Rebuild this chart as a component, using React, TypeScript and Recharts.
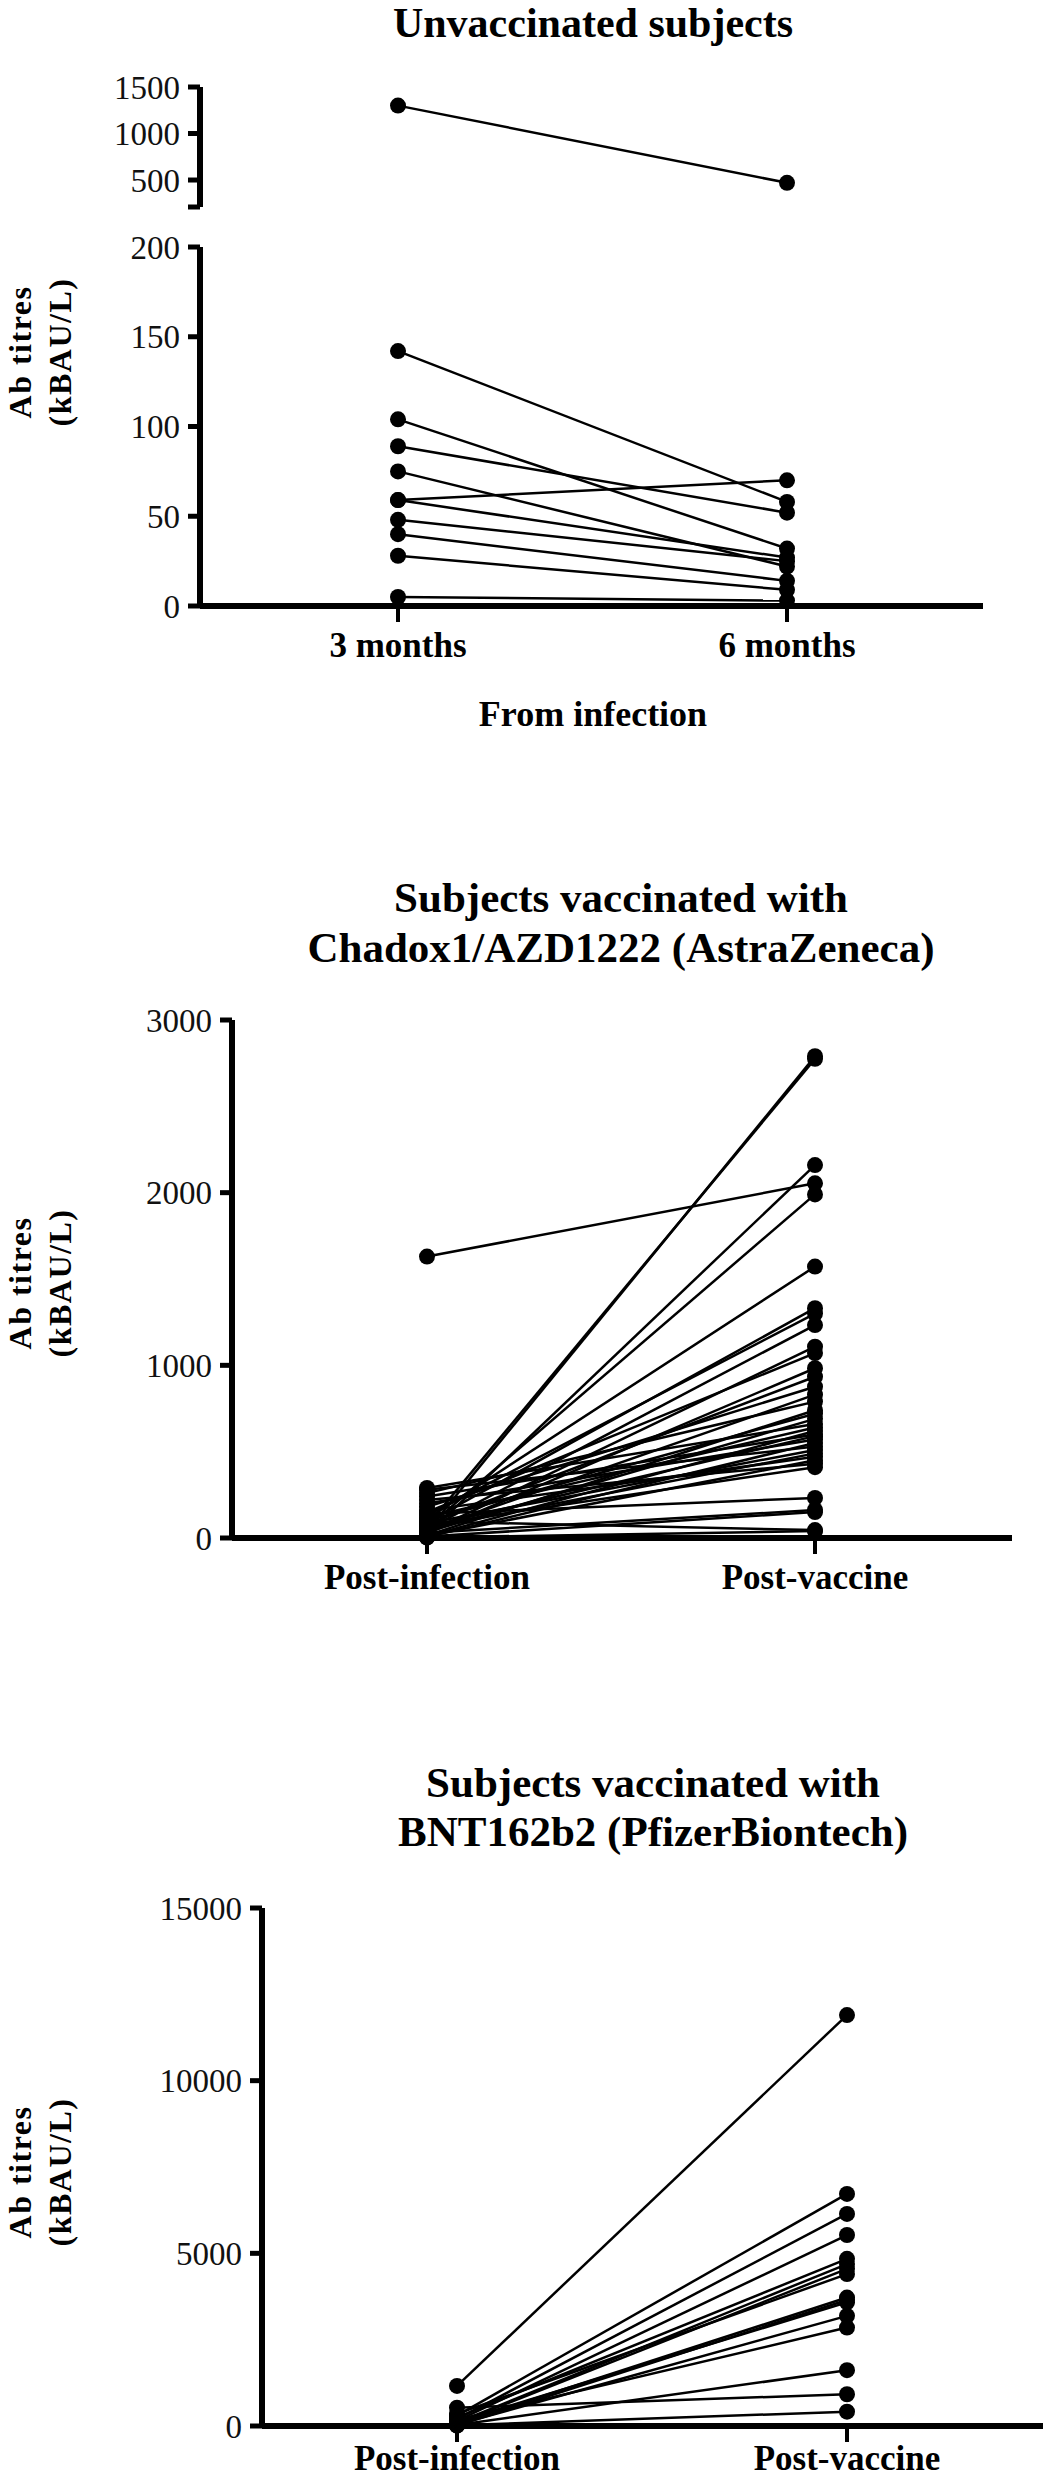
import React from 'react';
import { LineChart, Line, XAxis, YAxis } from 'recharts';

const FONT = '"Liberation Serif", "Times New Roman", serif';

// Unvaccinated subjects: titres 3 and 6 months after infection (kBAU/L)
const unvaxLabels = ['3 months', '6 months'];
const unvax3m = [1300, 142, 104, 89, 75, 59, 59, 48, 40, 28, 5];
const unvax6m = [470, 58, 32, 52, 22, 70, 27, 25, 14, 9, 3];

// Vaccinated subjects: post-infection vs post-vaccine
const vaxLabels = ['Post-infection', 'Post-vaccine'];
const azPostInfection = [1630, 40, 70, 20, 60, 110, 90, 130, 50, 30, 150, 25, 80, 180, 45, 260, 15, 100, 35, 290, 120, 10, 240, 65, 200, 5, 280, 85, 55, 160, 12, 220, 75, 140, 30, 8, 95, 3];
const azPostVaccine = [2054, 2790, 2775, 2160, 1990, 1572, 1331, 1300, 1233, 1108, 1071, 983, 934, 876, 830, 790, 740, 720, 690, 660, 640, 620, 600, 590, 570, 550, 530, 510, 490, 470, 450, 430, 410, 232, 162, 150, 46, 40];
const pfPostInfection = [1160, 300, 200, 150, 250, 100, 80, 350, 60, 120, 40, 180, 30, 530, 20, 10];
const pfPostVaccine = [11900, 6720, 6140, 5530, 4840, 4690, 4550, 4400, 3720, 3580, 3190, 2850, 1616, 920, 415, 3650];

const unvaxUpperTicks = [210, 500, 1000, 1500];
const unvaxLowerTicks = [0, 50, 100, 150, 200];
const azTicks = [0, 1000, 2000, 3000];
const pfTicks = [0, 5000, 10000, 15000];

type Row = { cat: string; [k: string]: string | number };

const buildRows = (labels: string[], before: number[], after: number[], keep: (i: number) => boolean) => {
  const keys: string[] = [];
  const r0: Row = { cat: labels[0] };
  const r1: Row = { cat: labels[1] };
  before.forEach((v, i) => {
    if (!keep(i)) return;
    const k = 's' + i;
    keys.push(k);
    r0[k] = v;
    r1[k] = after[i];
  });
  return { rows: [r0, r1], keys };
};

type PanelProps = {
  plotTop: number;
  plotHeight: number;
  axisX: number;
  axisEnd: number;
  catX: [number, number];
  rows: Row[];
  keys: string[];
  domain: [number, number];
  ticks: number[];
  hideX?: boolean;
  xHeight?: number;
  xMargin?: number;
  fmt?: (v: number) => string;
};

const TOP = 25;

const Panel = ({ plotTop, plotHeight, axisX, axisEnd, catX, rows, keys, domain, ticks, hideX, xHeight = 70, xMargin = 10, fmt }: PanelProps) => {
  const xh = hideX ? 10 : xHeight;
  return (
    <div style={{ position: 'absolute', left: 0, top: plotTop - TOP }}>
      <LineChart
        width={1046}
        height={TOP + plotHeight + xh}
        data={rows}
        margin={{ top: TOP, right: 1046 - axisEnd, left: 0, bottom: hideX ? 10 : 0 }}
      >
        <XAxis
          dataKey="cat"
          hide={hideX}
          height={hideX ? 0 : xHeight}
          padding={{ left: catX[0] - axisX, right: axisEnd - catX[1] }}
          axisLine={{ stroke: '#000', strokeWidth: 6 }}
          tickLine={{ stroke: '#000', strokeWidth: 4 }}
          tickSize={16}
          tickMargin={xMargin}
          tick={{ fontSize: 35, fontWeight: 700, fill: '#000', fontFamily: FONT }}
        />
        <YAxis
          type="number"
          width={axisX}
          domain={domain}
          ticks={ticks}
          interval={0}
          tickFormatter={fmt}
          axisLine={{ stroke: '#000', strokeWidth: 6 }}
          tickLine={{ stroke: '#000', strokeWidth: 5 }}
          tickSize={12}
          tickMargin={8}
          tick={{ fontSize: 33, fill: '#111', fontFamily: FONT }}
        />
        {keys.map((k) => (
          <Line
            key={k}
            type="linear"
            dataKey={k}
            stroke="#000"
            strokeWidth={2.5}
            dot={{ r: 8, fill: '#000', stroke: '#000', strokeWidth: 0 }}
            activeDot={false}
            isAnimationActive={false}
          />
        ))}
      </LineChart>
    </div>
  );
};

// centred bold text placed by its baseline
const Txt = ({ x, baseline, size, children }: { x: number; baseline: number; size: number; children: React.ReactNode }) => (
  <div
    style={{
      position: 'absolute',
      left: x,
      top: baseline - 0.7125 * size,
      transform: 'translateX(-50%)',
      fontSize: size,
      lineHeight: `${0.75 * size}px`,
      fontFamily: FONT,
      fontWeight: 700,
      whiteSpace: 'nowrap',
    }}
  >
    {children}
  </div>
);

const YLabel = ({ cy }: { cy: number }) => (
  <div
    style={{
      position: 'absolute',
      left: 40,
      top: cy,
      transform: 'translate(-50%, -50%) rotate(-90deg)',
      textAlign: 'center',
      fontSize: 32,
      lineHeight: '40px',
      fontFamily: FONT,
      fontWeight: 700,
      letterSpacing: 1.5,
      whiteSpace: 'nowrap',
    }}
  >
    Ab titres
    <br />
    (kBAU/L)
  </div>
);

export default function App() {
  const upper = buildRows(unvaxLabels, unvax3m, unvax6m, (i) => unvax3m[i] > 200);
  const lower = buildRows(unvaxLabels, unvax3m, unvax6m, (i) => unvax3m[i] <= 200);
  const az = buildRows(vaxLabels, azPostInfection, azPostVaccine, () => true);
  const pf = buildRows(vaxLabels, pfPostInfection, pfPostVaccine, () => true);

  return (
    <div style={{ position: 'absolute', left: 0, top: 0, width: 1046, height: 2480, overflow: 'hidden', background: '#fff' }}>
      {/* Unvaccinated, broken y axis */}
      <Txt x={593} baseline={38} size={42}>Unvaccinated subjects</Txt>
      <YLabel cy={352} />
      <Panel
        plotTop={87}
        plotHeight={120}
        axisX={200}
        axisEnd={983}
        catX={[398, 787]}
        rows={upper.rows}
        keys={upper.keys}
        domain={[210, 1500]}
        ticks={unvaxUpperTicks}
        hideX
        fmt={(v) => (v === 210 ? '' : String(v))}
      />
      <Panel
        plotTop={247}
        plotHeight={359}
        axisX={200}
        axisEnd={983}
        catX={[398, 787]}
        rows={lower.rows}
        keys={lower.keys}
        domain={[0, 200]}
        ticks={unvaxLowerTicks}
      />
      <Txt x={593} baseline={727} size={36}>From infection</Txt>

      {/* AstraZeneca */}
      <Txt x={621} baseline={913} size={43}>Subjects vaccinated with</Txt>
      <Txt x={621} baseline={963} size={43}>Chadox1/AZD1222 (AstraZeneca)</Txt>
      <YLabel cy={1283} />
      <Panel
        plotTop={1020}
        plotHeight={518}
        axisX={232}
        axisEnd={1012}
        catX={[427, 815]}
        rows={az.rows}
        keys={az.keys}
        domain={[0, 3000]}
        ticks={azTicks}
      />

      {/* Pfizer */}
      <Txt x={653} baseline={1798} size={43}>Subjects vaccinated with</Txt>
      <Txt x={653} baseline={1847} size={43}>BNT162b2 (PfizerBiontech)</Txt>
      <YLabel cy={2172} />
      <Panel
        plotTop={1908}
        plotHeight={518}
        axisX={262}
        axisEnd={1043}
        catX={[457, 847]}
        rows={pf.rows}
        keys={pf.keys}
        domain={[0, 15000]}
        ticks={pfTicks}
        xHeight={54}
        xMargin={3}
      />
    </div>
  );
}
